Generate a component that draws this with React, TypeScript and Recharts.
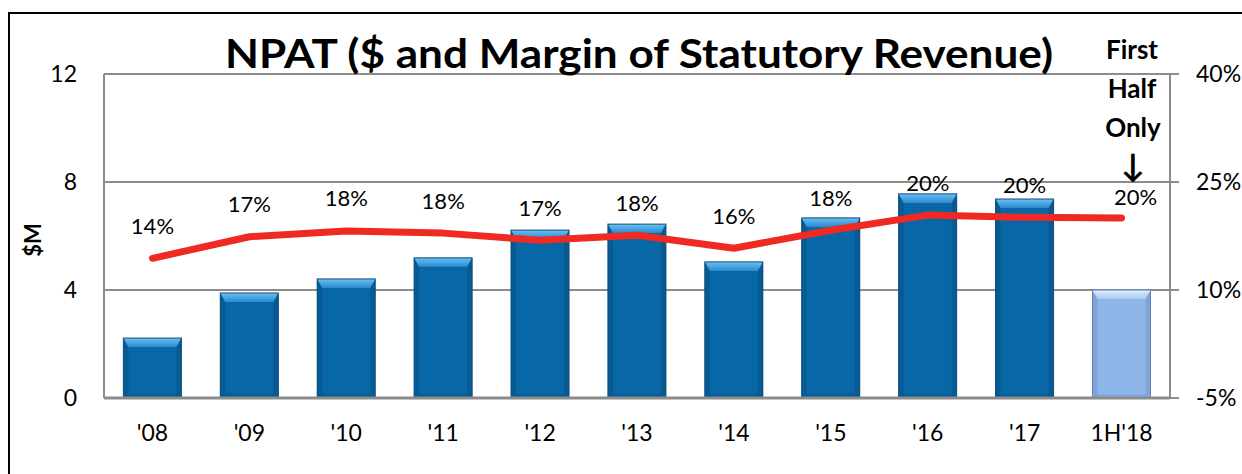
import { ComposedChart, Bar, Line, XAxis, YAxis, CartesianGrid } from 'recharts'

const categories = ["'08", "'09", "'10", "'11", "'12", "'13", "'14", "'15", "'16", "'17", "1H'18"]
const npat = [2.22, 3.89, 4.41, 5.19, 6.22, 6.44, 5.04, 6.67, 7.56, 7.37, 4.0]
const margin = [14.4, 17.4, 18.2, 17.9, 16.9, 17.6, 15.8, 18.3, 20.4, 20.1, 20.0]
const leftTicks = [0, 4, 8, 12]
const rightTicks = [-5, 10, 25, 40]

const data = categories.map((c, i) => ({ year: c, npat: npat[i], margin: margin[i] }))

const FONT = 'Lato, "Open Sans", sans-serif'
const GRID = '#8c8c8c'

const palettes = {
  full: { body: '#0867a6', edge: '#0a4f80', side: '#075a92', bottom: '#06558a', top1: '#6cc0f0', top2: '#2a8ad0' },
  half: { body: '#8fb6e8', edge: '#6a7fae', side: '#7fa5d8', bottom: '#7c9fd2', top1: '#dcefff', top2: '#a6c9f2' },
}

function BevelBar(props: any) {
  const { x, y, width, height, index } = props
  if (!height || height <= 0) return null
  const isHalf = categories[index]?.startsWith('1H')
  const p = isHalf ? palettes.half : palettes.full
  const gid = isHalf ? 'topHalf' : 'topFull'
  const b = Math.min(9, height / 2)
  const s = 5
  return (
    <g>
      <rect x={x} y={y} width={width} height={height} fill={p.body} />
      <polygon points={`${x},${y} ${x + s},${y + b} ${x + s},${y + height} ${x},${y + height}`} fill={p.side} />
      <polygon points={`${x + width},${y} ${x + width - s},${y + b} ${x + width - s},${y + height} ${x + width},${y + height}`} fill={p.side} />
      <rect x={x + s} y={y + height - 4} width={width - 2 * s} height={4} fill={p.bottom} opacity={0.6} />
      <polygon points={`${x},${y} ${x + width},${y} ${x + width - s},${y + b} ${x + s},${y + b}`} fill={`url(#${gid})`} />
      <rect x={x} y={y} width={width} height={height} fill="none" stroke={p.edge} strokeWidth={1} />
    </g>
  )
}

function MarginLabel(props: any) {
  const { x, y, value, index } = props
  const last = index === categories.length - 1
  return (
    <text
      x={x + (last ? 14 : 0)}
      y={y - (last ? 22 : 33)}
      textAnchor="middle"
      dominantBaseline="central"
      fontSize={22}
      fontFamily={FONT}
      fill="#000"
    >
      {Math.round(value)}%
    </text>
  )
}

export default function App() {
  return (
    <div style={{ position: 'absolute', left: 0, top: 0, width: 1242, height: 474, overflow: 'hidden', background: '#fff' }}>
      <div
        style={{
          position: 'absolute',
          left: 8,
          top: 12,
          width: 1300,
          height: 600,
          borderLeft: '2px solid #000',
          borderTop: '2px solid #000',
        }}
      />
      <ComposedChart
        width={1242}
        height={474}
        data={data}
        margin={{ top: 74, right: 0, bottom: 0, left: 0 }}
        barCategoryGap="20%"
        style={{ position: 'absolute', left: 0, top: 0 }}
      >
        <defs>
          <linearGradient id="topFull" x1="0" y1="0" x2="0" y2="1">
            <stop offset="0%" stopColor={palettes.full.top1} />
            <stop offset="100%" stopColor={palettes.full.top2} />
          </linearGradient>
          <linearGradient id="topHalf" x1="0" y1="0" x2="0" y2="1">
            <stop offset="0%" stopColor={palettes.half.top1} />
            <stop offset="100%" stopColor={palettes.half.top2} />
          </linearGradient>
        </defs>
        <CartesianGrid yAxisId="left" vertical={false} stroke={GRID} strokeWidth={2} />
        <XAxis
          dataKey="year"
          height={76}
          axisLine={{ stroke: GRID, strokeWidth: 3 }}
          tickLine={false}
          tickSize={0}
          tickMargin={27}
          tick={{ fontSize: 23, fill: '#000', fontFamily: FONT }}
          interval={0}
        />
        <YAxis
          yAxisId="left"
          orientation="left"
          width={104}
          domain={[0, 12]}
          ticks={leftTicks}
          axisLine={{ stroke: GRID, strokeWidth: 2 }}
          tickLine={false}
          tickSize={0}
          tickMargin={27}
          tick={{ fontSize: 23, fill: '#000', fontFamily: FONT }}
        />
        <YAxis
          yAxisId="right"
          orientation="right"
          width={72}
          domain={[-5, 40]}
          ticks={rightTicks}
          tickFormatter={(v: number) => `${v}%`}
          axisLine={{ stroke: GRID, strokeWidth: 2 }}
          tickLine={{ stroke: GRID, strokeWidth: 2 }}
          tickSize={9}
          tickMargin={17}
          tick={{ fontSize: 23, fill: '#000', fontFamily: FONT, textAnchor: 'start' }}
        />
        <Bar yAxisId="left" dataKey="npat" shape={<BevelBar />} isAnimationActive={false} />
        <Line
          yAxisId="right"
          dataKey="margin"
          type="linear"
          stroke="#ee2a22"
          strokeWidth={7}
          strokeLinecap="round"
          strokeLinejoin="round"
          dot={false}
          activeDot={false}
          label={<MarginLabel />}
          isAnimationActive={false}
        />
      </ComposedChart>
      <svg width={1242} height={474} style={{ position: 'absolute', left: 0, top: 0, pointerEvents: 'none' }}>
        <text x={225} y={68} textLength={828} lengthAdjust="spacingAndGlyphs" fontSize={40} fontWeight={700} fontFamily={FONT} fill="#000">
          NPAT ($ and Margin of Statutory Revenue)
        </text>
        <text x={32} y={240} textAnchor="middle" dominantBaseline="central" fontSize={22} fontWeight={700} fontFamily={FONT} fill="#000" transform="rotate(-90 32 240)">
          $M
        </text>
        <g fontSize={26} fontWeight={700} fontFamily={FONT} fill="#000" textAnchor="middle">
          <text x={1132} y={59}>First</text>
          <text x={1132} y={98}>Half</text>
          <text x={1133} y={137}>Only</text>
          <text x={1133} y={177} fontSize={32}>↓</text>
        </g>
      </svg>
    </div>
  )
}
